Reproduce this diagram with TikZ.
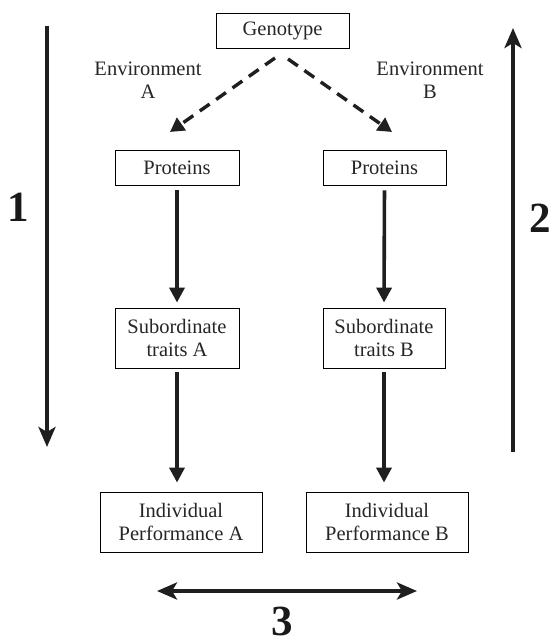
\documentclass[tikz,border=0pt]{standalone}
\usepackage{fontspec}
\setmainfont{Liberation Serif}
\usetikzlibrary{arrows.meta}
\begin{document}
\begin{tikzpicture}[x=1pt,y=-1pt,
  box/.style={draw,line width=0.9pt,inner sep=0pt,align=center,
    font=\fontsize{20.5}{23.5}\selectfont,text=black!85},
  lbl/.style={align=center,inner sep=0pt,font=\fontsize{20.5}{23.5}\selectfont,text=black!85},
  num/.style={inner sep=0pt,font=\fontsize{43}{43}\selectfont\bfseries,text=black!90},
  flow/.style={line width=3.6pt,draw=black!88,-{Triangle[width=15pt,length=15pt]}},
  longarr/.style={line width=4pt,draw=black!88,-{Stealth[width=17pt,length=20pt,inset=5pt]}},
  dasharr/.style={line width=3.4pt,draw=black!88,dash pattern=on 12pt off 8pt,
    -{Triangle[width=15pt,length=14pt]}}]
\useasboundingbox (0,0) rectangle (552,644);
\fill[white] (0,0) rectangle (552,644);

\node[box,minimum width=133pt,minimum height=35pt] (geno) at (282.5,30.5) {Genotype};
\node[box,minimum width=124pt,minimum height=35pt] (protA) at (177,167.5) {Proteins};
\node[box,minimum width=123pt,minimum height=35pt] (protB) at (384.5,167.5) {Proteins};
\node[box,minimum width=124pt,minimum height=60pt] (subA) at (177,338) {Subordinate\\ traits A};
\node[box,minimum width=122pt,minimum height=60pt] (subB) at (384,338) {Subordinate\\ traits B};
\node[box,minimum width=162pt,minimum height=60pt] (indA) at (181,522) {Individual\\ Performance A};
\node[box,minimum width=162pt,minimum height=60pt] (indB) at (387,522) {Individual\\ Performance B};

\node[lbl] (envA) at (148,80) {Environment\\ A};
\node[lbl] (envB) at (430,80) {Environment\\ B};

\node[num] (n1) at (18,207) {1};
\node[num] (n2) at (540,218) {2};
\node[num] (n3) at (282,621) {3};

% dashed arrows
\coordinate (gA) at (275,58);
\coordinate (eA) at (170,132);
\coordinate (gB) at (288,59);
\coordinate (eB) at (392,132);
\draw[dasharr] (gA) -- (eA);
\draw[dasharr] (gB) -- (eB);

% flow arrows
\draw[flow,shorten <=5pt,shorten >=5pt] (protA.south) -- (subA.north);
\draw[flow,shorten <=5pt,shorten >=5pt] (protB.south) -- (subB.north);
\draw[flow,shorten <=4pt,shorten >=9pt] (subA.south) -- (subA.south |- indA.north);
\draw[flow,shorten <=4pt,shorten >=9pt] (subB.south) -- (subB.south |- indB.north);

% long arrows
\coordinate (l1a) at (47,26);
\coordinate (l1b) at (47,447);
\coordinate (l2a) at (513,452);
\coordinate (l2b) at (513,28);
\draw[longarr] (l1a) -- (l1b);
\draw[longarr] (l2a) -- (l2b);

\coordinate (l3a) at (157,591);
\coordinate (l3b) at (417,591);
\draw[longarr,{Stealth[width=17pt,length=20pt,inset=5pt]}-{Stealth[width=17pt,length=20pt,inset=5pt]}] (l3a) -- (l3b);
\end{tikzpicture}
\end{document}
